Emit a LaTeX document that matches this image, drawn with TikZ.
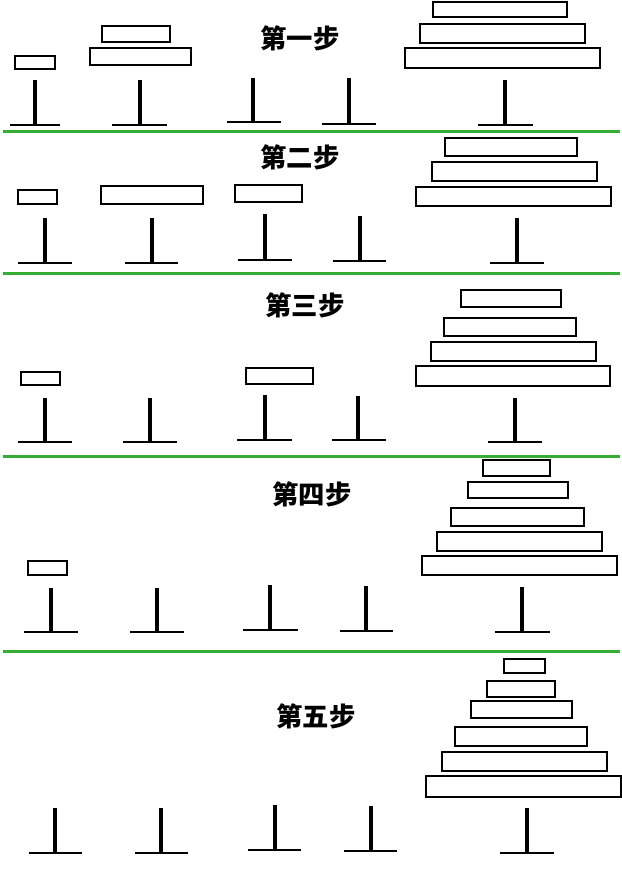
\documentclass[tikz,border=0pt]{standalone}
\usepackage{fontspec}
\newfontfamily\cjk{Noto Sans CJK SC}
\usepackage{tikz}

\begin{document}
\begin{tikzpicture}[
  x=0.02cm, y=-0.02cm,
  disk/.style={draw=black, line width=1.4pt, fill=white},
  pole/.style={line width=2pt},
  foot/.style={line width=1.4pt},
  divider/.style={draw=green!60!black!80, line width=1.7pt},
  steptitle/.style={font=\cjk\bfseries\fontsize{15}{17}\selectfont}
]
\useasboundingbox (0,0) rectangle (622,870);

% pegs: x, top, bottom, foot left, foot right
\foreach \px/\pt/\pb/\fl/\fr in {
  35/80/125/10/60, 140/80/125/112/167, 253/78/122/227/281, 349/78/124/322/376, 505/80/125/478/533,
  45/218/263/18/72, 152/218/263/125/178, 265/214/260/238/292, 360/216/261/333/386, 517/218/263/490/544,
  45/398/442/18/72, 150/398/442/123/177, 265/395/440/237/292, 358/396/440/332/386, 515/398/442/488/542,
  51/588/632/24/78, 157/588/632/130/184, 270/585/630/243/298, 366/586/631/340/393, 522/587/632/495/550,
  55/808/853/29/82, 161/808/853/135/188, 275/805/850/248/301, 371/806/851/344/397, 527/808/853/500/554}{
  \draw[pole] (\px,\pt) -- (\px,\pb);
  \draw[foot] (\fl,\pb) -- (\fr,\pb);
}

% disks
\foreach \xa/\ya/\xb/\yb in {
  15/56/55/69, 102/26/170/42, 90/48/191/65, 433/2/567/17, 420/24/585/43, 405/48/600/68,
  18/190/57/204, 101/186/203/204, 235/185/302/202, 445/138/577/156, 432/162/597/181, 416/187/611/206,
  21/372/60/385, 246/368/313/384, 461/290/561/307, 444/318/576/336, 431/342/596/361, 416/366/610/386,
  28/561/67/575, 483/460/550/476, 468/482/568/498, 451/508/584/526, 437/532/602/551, 422/556/617/575,
  504/659/545/673, 487/681/555/697, 471/701/572/718, 455/727/587/746, 442/752/607/771, 426/776/621/797}{
  \draw[disk] (\xa,\ya) rectangle (\xb,\yb);
}

% separators
\foreach \gy in {131,273,456,651}{
  \draw[divider] (3,\gy) -- (620,\gy);
}

% titles
\node[steptitle] (s1) at (300,38) {第一步};
\node[steptitle] (s2) at (300,157) {第二步};
\node[steptitle] (s3) at (305,305) {第三步};
\node[steptitle] (s4) at (312,494) {第四步};
\node[steptitle] (s5) at (316,716) {第五步};
\end{tikzpicture}
\end{document}
